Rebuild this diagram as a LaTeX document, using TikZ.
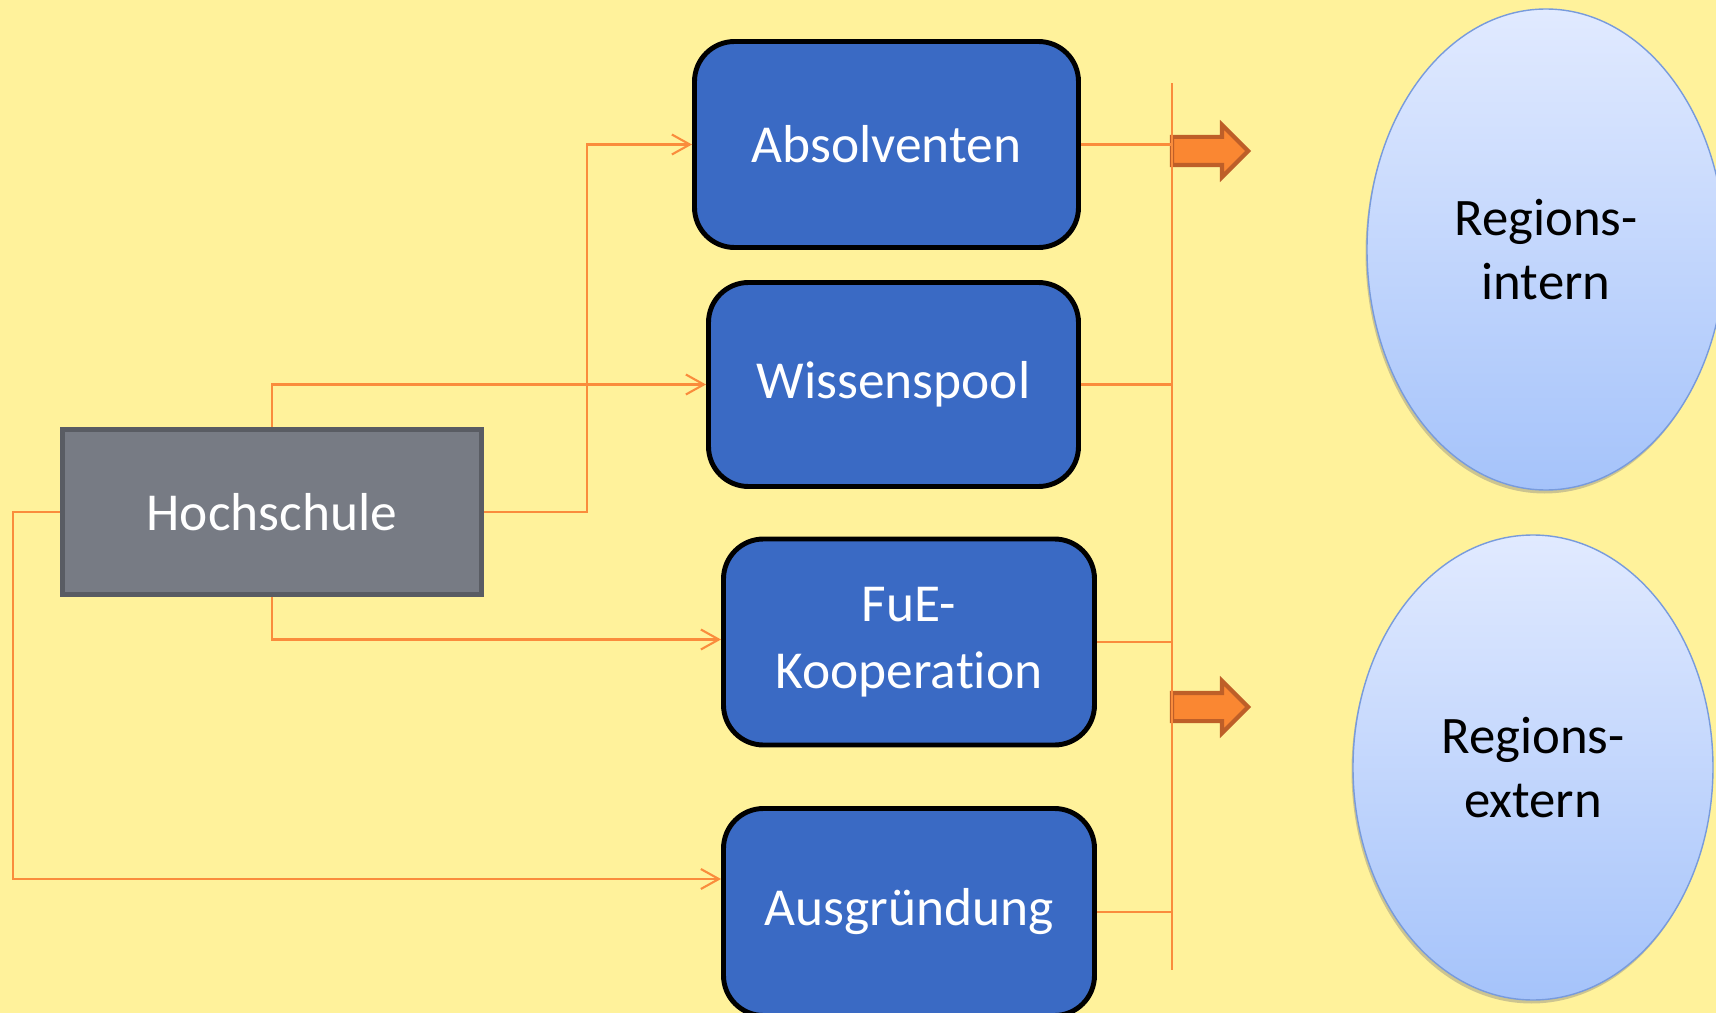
\documentclass[tikz,border=0pt]{standalone}
\usepackage{fontspec}
\setmainfont{Carlito}[Ligatures = NoCommon]
\usepackage{tikz}
\usetikzlibrary{positioning,arrows.meta,shapes.geometric,shapes.arrows,shadows}

\definecolor{hintergrund}{RGB}{255,242,155}
\definecolor{boxblau}{RGB}{58,106,196}
\definecolor{hsgrau}{RGB}{119,123,132}
\definecolor{hsrand}{RGB}{89,92,99}
\definecolor{linienorange}{RGB}{250,140,60}
\definecolor{pfeilorange}{RGB}{250,135,50}
\definecolor{pfeilrand}{RGB}{190,95,40}
\definecolor{ellipseoben}{RGB}{225,234,255}
\definecolor{ellipseunten}{RGB}{165,195,250}
\definecolor{ellipserand}{RGB}{120,155,220}

\begin{document}
\begin{tikzpicture}[
  kasten/.style = {fill = boxblau, draw = black, line width = 1.4pt, shape = rectangle, rounded corners = 4mm, text = white, align = center, inner sep = 0pt, font = \fontsize{15.2}{19}\selectfont},
  region/.style = {shape = ellipse, draw = ellipserand, thin, top color = ellipseoben, bottom color = ellipseunten, inner sep = 0pt, align = center, font = \fontsize{15}{18}\selectfont, drop shadow = {shadow xshift = -0.15mm, shadow yshift = -0.35mm, opacity = 0.4}},
  blockpfeil/.style = {shape = single arrow, fill = pfeilorange, draw = pfeilrand, line width = 1.2pt, single arrow head extend = 1.2mm, inner sep = 0pt, inner ysep = 1.2mm, minimum height = 7.6mm},
  link/.style = {draw = linienorange, line width = 0.6pt, -{Straight Barb[length = 1.8mm, width = 2mm]}},
  bus/.style = {draw = linienorange, line width = 0.6pt}
]
\fill[hintergrund] (0,0) rectangle (17.16,-10.13);
\useasboundingbox (0,0) rectangle (17.16,-10.13);

\node[fill = hsgrau, draw = hsrand, line width = 1.4pt, shape = rectangle, minimum width = 4.19cm, minimum height = 1.65cm, text = white, font = \fontsize{15.2}{19}\selectfont] (hs) at (2.72,-5.12) {Hochschule};

\node[kasten, minimum width = 3.84cm, minimum height = 2.06cm] (abs) at (8.865,-1.445) {Absolventen};
\node[kasten, minimum width = 3.70cm, minimum height = 2.04cm] (wiss) at (8.935,-3.845) {Wissenspool};
\node[kasten, minimum width = 3.71cm, minimum height = 2.06cm] (fue) at (9.09,-6.42) {FuE-\\Kooperation};
\node[kasten, minimum width = 3.71cm, minimum height = 2.07cm] (ausg) at (9.09,-9.12) {Ausgründung};

\node[region, minimum width = 3.58cm, minimum height = 4.81cm] (intern) at (15.46,-2.495) {Regions-\\intern};
\node[region, minimum width = 3.60cm, minimum height = 4.65cm] (extern) at (15.33,-7.675) {Regions-\\extern};

\node[blockpfeil] (pfeil1) at (12.03,-1.51) {};
\node[blockpfeil] (pfeil2) at (12.03,-7.07) {};

\coordinate (knick1) at (5.87,-5.12);
\coordinate (knick2) at (0.13,-5.12);
\coordinate (busoben) at (11.72,-0.83);
\coordinate (busunten) at (11.72,-9.70);

\draw[link] (hs.east) -- (knick1) |- (abs.west);
\draw[link] (hs.north) |- (wiss.west);
\draw[link] (hs.south) |- ([yshift = 0.25mm]fue.west);
\draw[link] (hs.west) -- (knick2) |- ([yshift = 3.3mm]ausg.west);

\draw[bus] (busoben) -- (busunten);
\foreach \n in {abs,wiss,fue,ausg}
  \draw[bus] (\n.east) -- (\n.east -| busoben);
\end{tikzpicture}
\end{document}
